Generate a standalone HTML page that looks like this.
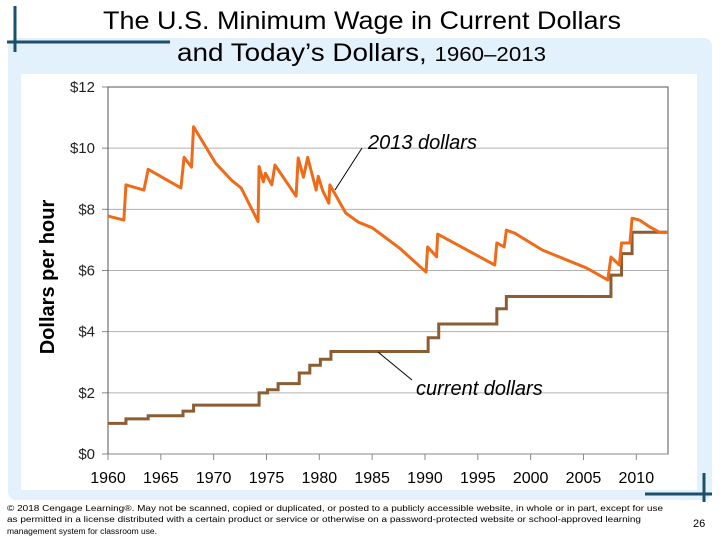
<!DOCTYPE html>
<html><head><meta charset="utf-8"><style>
body{margin:0;width:720px;height:540px;overflow:hidden;background:#fff;font-family:"Liberation Sans",sans-serif;}
</style></head><body>
<svg width="720" height="540" style="position:absolute;left:0;top:0">
<rect x="8" y="38" width="704" height="462" rx="8" fill="#e2f1fb"/>
<rect x="21" y="74" width="676" height="416" fill="#fff"/>
<line x1="15" y1="6" x2="15" y2="52" stroke="#1d4f6b" stroke-width="3"/>
<line x1="7" y1="42" x2="170" y2="42" stroke="#1d4f6b" stroke-width="3"/>
<line x1="704" y1="473" x2="704" y2="502" stroke="#1d4f6b" stroke-width="3"/>
<line x1="645" y1="494" x2="712" y2="494" stroke="#1d4f6b" stroke-width="3"/>
<text x="103" y="29" font-size="25" textLength="518" lengthAdjust="spacingAndGlyphs" fill="#000">The U.S. Minimum Wage in Current Dollars</text>
<text x="177" y="61" font-size="25" textLength="369" lengthAdjust="spacingAndGlyphs" fill="#000">and Today’s Dollars, <tspan font-size="20">1960–2013</tspan></text>
<text transform="translate(54,277) rotate(-90)" font-size="20" font-weight="bold" text-anchor="middle">Dollars per hour</text>
<g id="chart"></g>
<text x="368" y="149" font-size="20" font-style="italic">2013 dollars</text>
<line x1="362" y1="148" x2="335" y2="190" stroke="#000" stroke-width="1"/>
<text x="416" y="395" font-size="20" font-style="italic">current dollars</text>
<line x1="412" y1="380" x2="378" y2="352" stroke="#000" stroke-width="1"/>
<g font-size="8" fill="#000">
<text x="7" y="511" textLength="656" lengthAdjust="spacingAndGlyphs">© 2018 Cengage Learning®. May not be scanned, copied or duplicated, or posted to a publicly accessible website, in whole or in part, except for use</text>
<text x="7" y="522" textLength="634" lengthAdjust="spacingAndGlyphs">as permitted in a license distributed with a certain product or service or otherwise on a password-protected website or school-approved learning</text>
<text x="7" y="534" textLength="150" lengthAdjust="spacingAndGlyphs">management system for classroom use.</text>
</g>
<text x="693" y="527" font-size="11">26</text>
</svg>
<script>
const yTicks=[0,2,4,6,8,10,12];
const yTickLabels=["$0","$2","$4","$6","$8","$10","$12"];
const xTicks=[1960,1965,1970,1975,1980,1985,1990,1995,2000,2005,2010];
const realYears=[1960,1961.5,1961.7,1963.4,1963.8,1966.9,1967.2,1967.9,1968.1,1970.2,1971.7,1972.6,1974.2,1974.3,1974.7,1974.9,1975.5,1975.8,1977.8,1978.0,1978.5,1978.9,1979.7,1979.9,1980.3,1980.9,1981.0,1982.5,1983.7,1985,1987.6,1990.1,1990.25,1991.1,1991.2,1996.6,1996.8,1997.5,1997.7,1998.5,2001.1,2005.3,2007.3,2007.6,2008.4,2008.6,2009.4,2009.6,2010.3,2011.3,2012.2,2013];
const realValues=[7.78,7.65,8.8,8.63,9.31,8.7,9.7,9.38,10.7,9.5,8.95,8.7,7.6,9.4,8.9,9.18,8.8,9.45,8.43,9.68,9.05,9.7,8.63,9.08,8.63,8.2,8.8,7.88,7.58,7.4,6.73,5.95,6.77,6.45,7.19,6.18,6.9,6.77,7.32,7.22,6.67,6.08,5.69,6.44,6.18,6.9,6.9,7.71,7.65,7.42,7.25,7.25];
const stepYears=[1960,1961.7,1963.8,1967.1,1968.1,1974.3,1975.1,1976.1,1978.1,1979.1,1980.1,1981.1,1990.3,1991.3,1996.8,1997.7,2007.6,2008.6,2009.6];
const stepValues=[1.00,1.15,1.25,1.40,1.60,2.00,2.10,2.30,2.65,2.90,3.10,3.35,3.80,4.25,4.75,5.15,5.85,6.55,7.25];
const X0=108,X1=668,Y0=454,Y1=87,yearMin=1960,yearMax=2013,vMax=12;
const xs=y=>X0+(y-yearMin)/(yearMax-yearMin)*(X1-X0);
const ys=v=>Y0-v/vMax*(Y0-Y1);
const NS="http://www.w3.org/2000/svg";
const g=document.getElementById('chart');
function mk(t,a){const e=document.createElementNS(NS,t);for(const k in a)e.setAttribute(k,a[k]);g.appendChild(e);return e;}
yTicks.forEach((v,i)=>{
  if(v>0){const l=mk('line',{x1:X0,x2:X1,y1:ys(v),y2:ys(v),stroke:'#b0b0b0','stroke-width':1});
  
  }
  const tk=mk('line',{x1:X0-6,x2:X0,y1:ys(v),y2:ys(v),stroke:'#888'});
  
  
  const t=mk('text',{x:X0-13,y:ys(v)+5,'font-size':15,'text-anchor':'end',fill:'#222'});
  t.textContent=yTickLabels[i];
  
  
});
const fr=mk('rect',{x:X0,y:Y1,width:X1-X0,height:Y0-Y1,fill:'none',stroke:'#555','stroke-width':1});


const ax=mk('line',{x1:X0,x2:X1,y1:Y0,y2:Y0,stroke:'#888'});


xTicks.forEach(yr=>{
  const tk=mk('line',{x1:xs(yr),x2:xs(yr),y1:Y0,y2:Y0+6,stroke:'#888'});
  
  
  const t=mk('text',{x:xs(yr),y:Y0+29,'font-size':16,'text-anchor':'middle',fill:'#000'});
  t.textContent=yr;
  
  
});
let d='';
stepYears.forEach((yr,i)=>{
  const v=stepValues[i];
  if(i===0)d+='M'+xs(yr)+','+ys(v);
  else d+=' L'+xs(yr)+','+ys(stepValues[i-1])+' L'+xs(yr)+','+ys(v);
});
d+=' L'+xs(yearMax)+','+ys(stepValues[stepValues.length-1]);
const cur=mk('path',{d:d,fill:'none',stroke:'#8c5d32','stroke-width':3});


const rd=realYears.map((yr,i)=>(i?'L':'M')+xs(yr)+','+ys(realValues[i])).join(' ');
const real=mk('path',{d:rd,fill:'none',stroke:'#ef6b1a','stroke-width':3,'stroke-linejoin':'round'});


</script>
</body></html>
